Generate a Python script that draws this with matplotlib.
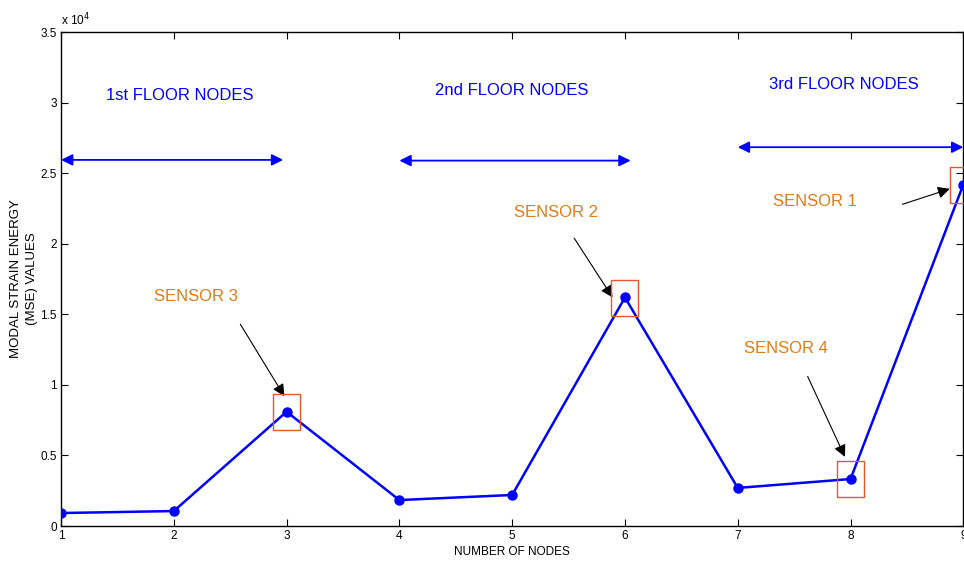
import numpy as np
import matplotlib.pyplot as plt
from matplotlib.patches import Rectangle
from matplotlib.ticker import FuncFormatter

plt.rcParams['font.family'] = ['Liberation Sans', 'DejaVu Sans']

# data
nodes = [1, 2, 3, 4, 5, 6, 7, 8, 9]
mse = [920, 1060, 8100, 1840, 2200, 16200, 2700, 3330, 24200]

floor_labels = ['1st FLOOR NODES', '2nd FLOOR NODES', '3rd FLOOR NODES']
floor_text_pos = [(2.05, 30500), (5.0, 30850), (7.94, 31300)]
floor_spans = [(1.0, 2.97, 25950), (4.0, 6.05, 25900), (7.0, 9.0, 26850)]

sensor_labels = ['SENSOR 3', 'SENSOR 2', 'SENSOR 4', 'SENSOR 1']
sensor_nodes = [3, 6, 8, 9]
sensor_text_pos = [(2.20, 16250), (5.39, 22250), (7.43, 12550), (7.68, 23000)]
sensor_arrow_start = [(2.59, 14300), (5.55, 20400), (7.62, 10600), (8.46, 22800)]
sensor_arrow_end = [(2.98, 9200), (5.89, 16200), (7.95, 4900), (8.88, 23900)]

fig = plt.figure(figsize=(9.64, 5.65), dpi=100)
ax = fig.add_axes([0.0633, 0.069, 0.936, 0.874])

ax.plot(nodes, mse, color='#0000ff', lw=1.8, marker='o', ms=6.5, zorder=3)

for lab, (tx, ty) in zip(floor_labels, floor_text_pos):
    ax.text(tx, ty, lab, color='#0000ff', fontsize=12, ha='center', va='center')
for x0, x1, yy in floor_spans:
    ax.annotate('', xy=(x1, yy), xytext=(x0, yy),
                arrowprops=dict(arrowstyle='<|-|>', color='#0000ff', lw=1.3,
                                mutation_scale=17, shrinkA=0, shrinkB=0),
                annotation_clip=False)

for lab, n, (tx, ty), s, e in zip(sensor_labels, sensor_nodes, sensor_text_pos,
                                  sensor_arrow_start, sensor_arrow_end):
    ax.text(tx, ty, lab, color='#e07b16', fontsize=12, ha='center', va='center')
    ax.annotate('', xy=e, xytext=s,
                arrowprops=dict(arrowstyle='-|>', color='black', lw=0.8,
                                mutation_scale=18, shrinkA=0, shrinkB=0))
    yv = mse[nodes.index(n)]
    ax.add_patch(Rectangle((n - 0.12, yv - 1300), 0.24, 2550, fill=False,
                           edgecolor='#e8562a', lw=1.0, zorder=4, clip_on=False))

ax.set_xlim(1, 9)
ax.set_ylim(0, 35000)
ax.set_xticks(nodes)
ax.set_yticks(np.arange(0, 35001, 5000))
ax.yaxis.set_major_formatter(FuncFormatter(lambda v, p: '%g' % (v / 1e4)))
ax.tick_params(direction='in', length=5, width=0.8, labelsize=8.5,
               top=True, right=True, pad=3)
for sp in ax.spines.values():
    sp.set_linewidth(1.0)

ax.text(0.0, 1.008, 'x 10$^{4}$', transform=ax.transAxes, fontsize=8.5,
        ha='left', va='bottom')
ax.set_xlabel('NUMBER OF NODES', fontsize=8.5, labelpad=3)
ax.set_ylabel('MODAL STRAIN ENERGY\n(MSE) VALUES',
              fontsize=9.5, labelpad=2, linespacing=1.35)

fig.savefig('out.png', dpi=100)
